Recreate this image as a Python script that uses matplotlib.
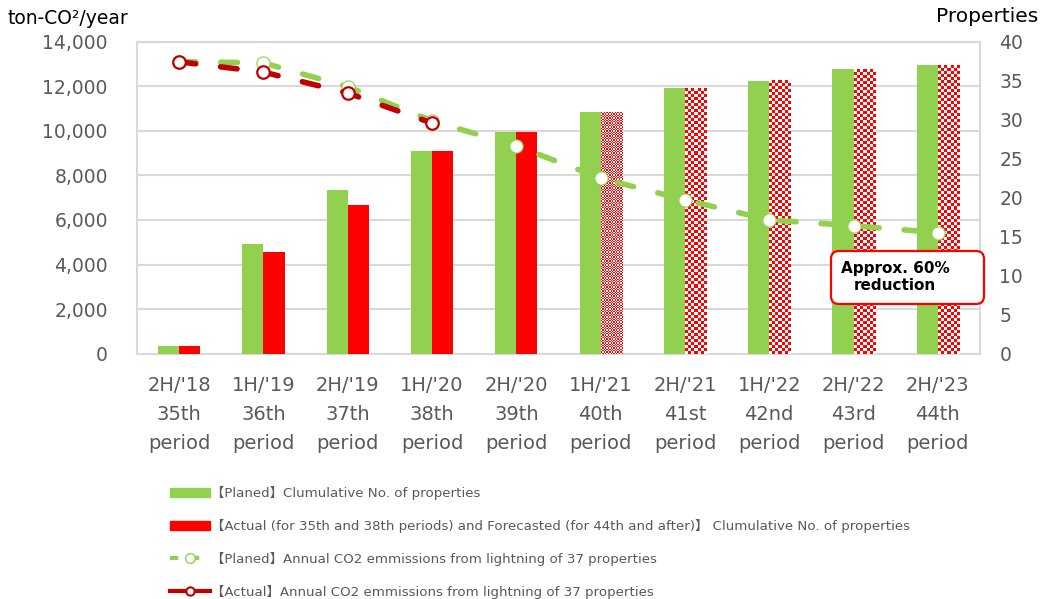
import numpy as np
import matplotlib.pyplot as plt
from matplotlib.colors import ListedColormap
from matplotlib.lines import Line2D
from matplotlib.patches import Patch, FancyBboxPatch
from matplotlib.ticker import StrMethodFormatter

plt.rcParams['font.family'] = ['DejaVu Sans', 'Noto Sans CJK JP']

# data
periods = ["2H/'18\n35th\nperiod", "1H/'19\n36th\nperiod", "2H/'19\n37th\nperiod",
           "1H/'20\n38th\nperiod", "2H/'20\n39th\nperiod", "1H/'21\n40th\nperiod",
           "2H/'21\n41st\nperiod", "1H/'22\n42nd\nperiod", "2H/'22\n43rd\nperiod",
           "2H/'23\n44th\nperiod"]
planned_props = [1, 14, 21, 26, 28.4, 31, 34, 35, 36.5, 37]
actual_props = [1, 13, 19, 26, 28.4, 31, 34, 35, 36.5, 37]
n_actual_bars = 5          # 35th-39th actual, rest forecast
planned_co2 = [13100, 13040, 11970, 10440, 9320, 7870, 6900, 6000, 5740, 5430]
actual_co2 = [13090, 12630, 11690, 10340]

GREEN = '#92D050'
RED = '#FF0000'
DARKRED = '#C00000'
GRID = '#D9D9D9'
TXT = '#595959'

fig = plt.figure(figsize=(10.41, 5.99), dpi=100)
pos = [0.1316, 0.4095, 0.8098, 0.5212]

ax = fig.add_axes(pos)        # left scale + gridlines
ax2 = ax.twinx()              # bars, right scale
ax3 = fig.add_axes(pos, sharex=ax, sharey=ax)   # lines on top of bars
ax3.axis('off')
ax3.patch.set_visible(False)

x = np.arange(len(periods))
w = 0.25

ax.set_xlim(-0.5, len(periods) - 0.5)
ax.set_ylim(0, 14000)
ax2.set_ylim(0, 40)

ax2.bar(x - w / 2, planned_props, w, color=GREEN, zorder=2)
ax2.bar(x[:n_actual_bars] + w / 2, actual_props[:n_actual_bars], w, color=RED, zorder=2)

checker_cmap = ListedColormap(['white', RED])


def checker_bar(axis, xc, h, cell_px):
    x0, x1 = xc - w / 2, xc + w / 2
    p0 = axis.transData.transform((x0, 0))
    p1 = axis.transData.transform((x1, h))
    nx = max(1, int(round((p1[0] - p0[0]) / cell_px)))
    ny = max(1, int(round((p1[1] - p0[1]) / cell_px)))
    grid = np.indices((ny, nx)).sum(axis=0) % 2
    axis.imshow(grid, cmap=checker_cmap, extent=(x0, x1, 0, h), aspect='auto',
                interpolation='nearest', origin='lower', zorder=2)


for i in range(n_actual_bars, len(periods)):
    cell = 1.3 if i == n_actual_bars else 3.0
    checker_bar(ax2, x[i] + w / 2, actual_props[i], cell)

ax.set_xlim(-0.5, len(periods) - 0.5)
ax.set_ylim(0, 14000)
ax2.set_ylim(0, 40)

ax3.plot(x, planned_co2, color=GREEN, lw=4, ls=(0, (3, 4.5)), dash_capstyle='round',
         marker='o', ms=9.5, mfc='white', mec=GREEN, mew=0.8, zorder=3)
ax3.plot(x[:len(actual_co2)], actual_co2, color=DARKRED, lw=4, ls=(0, (3, 4.5)),
         dash_capstyle='round', marker='o', ms=9, mfc='white', mec=DARKRED, mew=1.6, zorder=4)

# axes styling
ax.set_yticks(range(0, 14001, 2000))
ax.yaxis.set_major_formatter(StrMethodFormatter('{x:,.0f}'))
ax.tick_params(axis='y', length=0, pad=21, labelsize=13.5, labelcolor=TXT)
ax2.set_yticks(range(0, 41, 5))
ax2.tick_params(axis='y', length=0, pad=14, labelsize=13.5, labelcolor=TXT)
ax.set_xticks(x)
ax.set_xticklabels(periods, linespacing=1.68)
ax.tick_params(axis='x', length=0, pad=16, labelsize=14, labelcolor=TXT)

ax.grid(axis='y', color=GRID, lw=1.5)
ax.set_axisbelow(True)
for sp in ax.spines.values():
    sp.set_color(GRID)
    sp.set_linewidth(1.5)
for sp in ax2.spines.values():
    sp.set_visible(False)

fig.text(8 / 1041, 1 - 18 / 599, 'ton-CO²/year', va='center', fontsize=13.5)
fig.text(1038 / 1041, 1 - 16 / 599, 'Properties', ha='right', va='center', fontsize=14.5)

# reduction callout
box = FancyBboxPatch((8.31, 2.95), 1.53, 0.53, boxstyle='round,pad=0,rounding_size=0.08',
                     transform=fig.dpi_scale_trans, fc='white', ec=RED, lw=1.6, zorder=10)
fig.add_artist(box)
fig.text(8.95, 3.22, 'Approx. 60%\nreduction', transform=fig.dpi_scale_trans,
         ha='center', va='center', multialignment='center', fontsize=11,
         fontweight='bold', linespacing=1.1, zorder=11)

handles = [
    Patch(color=GREEN),
    Patch(color=RED),
    Line2D([], [], color=GREEN, lw=3, ls=(0, (2, 3)), marker='o', ms=7,
           mfc='white', mec=GREEN, mew=1),
    Line2D([], [], color=DARKRED, lw=3, marker='o', ms=6, mfc='white', mec=DARKRED, mew=1.5),
]
labels = [
    '【Planed】Clumulative No. of properties',
    '【Actual (for 35th and 38th periods) and Forecasted (for 44th and after)】 Clumulative No. of properties',
    '【Planed】Annual CO2 emmissions from lightning of 37 properties',
    '【Actual】Annual CO2 emmissions from lightning of 37 properties',
]
fig.legend(handles, labels, loc='upper left', bbox_to_anchor=(170 / 1041, 1 - 486 / 599),
           frameon=False, fontsize=9.6, handlelength=3.0, handletextpad=0.05,
           labelspacing=1.42, borderaxespad=0, borderpad=0, labelcolor=TXT)

fig.savefig('out.png', dpi=100)
